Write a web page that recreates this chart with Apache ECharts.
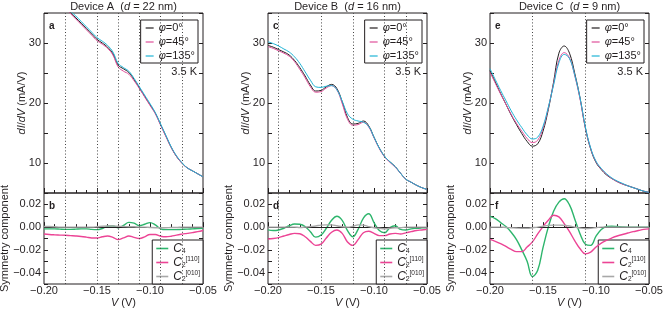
<!DOCTYPE html>
<html><head><meta charset="utf-8">
<script src="https://cdn.jsdelivr.net/npm/echarts@6/dist/echarts.min.js"></script>
<style>html,body{margin:0;padding:0;background:#fff}#c{width:669px;height:310px}</style>
</head><body><div id="c"></div>
<script>
// ---------- DATA ----------
const voltage = [-0.200,-0.195,-0.190,-0.185,-0.180,-0.175,-0.170,-0.165,-0.160,-0.155,-0.150,-0.145,-0.140,-0.135,-0.130,-0.125,-0.120,-0.115,-0.110,-0.105,-0.100,-0.095,-0.090,-0.085,-0.080,-0.075,-0.070,-0.065,-0.060,-0.055,-0.050];

const devTitles = ['Device A', 'Device B', 'Device C'];
const devThickness = ['22', '16', '9'];
const panelLetters = [['a','b'],['c','d'],['e','f']];
const temperatureLabel = '3.5 K';

// dI/dV (mA/V)
const aPhi0   = [39.5,38.6,37.7,36.8,35.9,35.0,34.2,33.3,32.4,31.5,30.6,30.0,29.3,28.2,26.3,25.7,25.1,23.9,22.5,21.1,19.7,18.3,16.4,14.5,12.6,11.1,10.0,9.2,8.7,8.2,7.7];
const aPhi45  = [39.4,38.5,37.6,36.7,35.8,34.9,34.0,33.1,32.2,31.3,30.4,29.8,29.1,28.0,26.0,25.3,24.8,23.7,22.4,21.0,19.6,18.2,16.3,14.4,12.6,11.1,10.0,9.2,8.7,8.2,7.7];
const aPhi135 = [39.8,38.9,38.0,37.1,36.2,35.3,34.5,33.6,32.7,31.8,30.9,30.3,29.6,28.5,26.6,25.9,25.3,24.1,22.7,21.3,19.9,18.4,16.5,14.6,12.7,11.2,10.1,9.2,8.7,8.2,7.7];

const bPhi0   = [29.6,29.3,28.9,28.5,28.0,27.1,25.9,24.5,23.0,22.0,22.1,22.7,23.1,22.4,20.2,17.6,16.5,16.6,17.0,16.2,14.3,12.5,11.1,10.2,9.4,8.3,7.3,6.8,6.3,5.9,5.6];
const bPhi45  = [29.4,29.1,28.7,28.3,27.8,26.9,25.6,24.2,22.7,21.8,21.9,22.5,22.9,22.2,19.9,17.3,16.3,16.4,16.8,16.0,14.2,12.4,11.0,10.1,9.3,8.3,7.3,6.8,6.3,5.9,5.6];
const bPhi135 = [30.2,29.9,29.5,29.0,28.5,27.7,26.6,25.2,23.8,22.7,22.6,22.8,22.9,22.2,20.3,18.2,17.3,17.0,16.8,16.1,14.3,12.5,11.1,10.2,9.4,8.3,7.3,6.8,6.3,5.9,5.6];

const cPhi0   = [25.4,23.5,21.6,19.8,18.0,16.4,14.9,13.6,12.8,13.2,15.3,18.9,23.5,28.3,29.5,28.3,24.9,20.8,15.8,12.3,10.1,8.9,8.0,7.4,6.9,6.5,6.2,5.9,5.6,5.3,5.1];
const cPhi45  = [25.1,23.3,21.5,19.8,18.1,16.6,15.3,14.1,13.4,13.8,15.8,19.2,23.2,27.1,28.4,27.5,24.5,20.6,15.8,12.4,10.2,9.0,8.1,7.4,6.9,6.5,6.2,5.9,5.6,5.3,5.1];
const cPhi135 = [25.7,23.9,22.1,20.4,18.7,17.2,15.9,14.7,14.0,14.3,16.1,19.3,23.0,26.7,28.1,27.4,24.6,20.8,16.0,12.5,10.3,9.1,8.2,7.5,7.0,6.6,6.2,5.9,5.6,5.3,5.1];

// Symmetry components
const aC4    = [-0.0015,-0.0015,-0.0015,-0.0018,-0.002,-0.002,-0.0018,-0.0015,-0.0015,-0.002,-0.0022,-0.0012,0.0008,0.001,-0.0005,0.0015,0.0042,0.0035,0.0012,0.0025,0.004,0.002,-0.0015,-0.0022,-0.0022,-0.0022,-0.002,-0.0018,-0.0015,-0.0012,-0.001];
const aC2110 = [-0.006,-0.0065,-0.0068,-0.007,-0.0072,-0.0075,-0.0078,-0.0082,-0.0088,-0.0095,-0.0095,-0.0085,-0.0078,-0.009,-0.011,-0.0095,-0.0078,-0.009,-0.010,-0.0085,-0.0065,-0.0065,-0.008,-0.0085,-0.008,-0.007,-0.0062,-0.0055,-0.0048,-0.004,-0.003];
const aC2010 = [0.0005,0.0005,0.0003,0,0,0,0,0,0,0,0.0003,0.0008,0.001,0.001,0.0008,0.0005,0.0003,0.0003,0,0,-0.0003,-0.0005,-0.0005,-0.0005,-0.0003,-0.0003,0,0,0,0,0];

const bC4    = [-0.0024,-0.003,-0.0025,-0.001,0.0012,0.0028,0.0025,0.0005,-0.004,-0.0088,-0.007,-0.001,0.006,0.0095,0.006,-0.003,-0.0085,-0.002,0.008,0.0118,0.004,-0.003,-0.005,-0.0005,0.0012,-0.002,-0.0025,-0.0015,-0.001,-0.0007,-0.0005];
const bC2110 = [-0.0104,-0.010,-0.0092,-0.0078,-0.0065,-0.0055,-0.0058,-0.0085,-0.0125,-0.016,-0.015,-0.0095,-0.0045,-0.0025,-0.0055,-0.013,-0.016,-0.011,-0.005,-0.0036,-0.0055,-0.0075,-0.0075,-0.006,-0.0055,-0.006,-0.005,-0.004,-0.003,-0.0025,-0.002];
const bC2010 = [0,0,0,0,0,0,-0.0003,0,0.0005,0.001,0.0018,0.002,0.002,0.0012,0.0003,0,0.0008,0.002,0.0018,0.0005,-0.0005,-0.001,-0.0015,-0.001,-0.0005,-0.0005,0,0,0,0,0];

const cC4    = [0.0095,0.0075,0.004,0.0005,-0.0045,-0.011,-0.020,-0.030,-0.0435,-0.038,-0.018,0.000,0.014,0.022,0.025,0.0195,0.007,-0.006,-0.015,-0.016,-0.008,-0.002,0.0005,0.0008,0.0005,0.0002,0,0,0,0,0];
const cC2110 = [-0.0107,-0.0125,-0.0145,-0.017,-0.0195,-0.0215,-0.0215,-0.0175,-0.013,-0.006,0.0005,0.006,0.0105,0.009,0.003,-0.004,-0.012,-0.019,-0.0235,-0.022,-0.0175,-0.014,-0.0115,-0.0095,-0.0078,-0.0065,-0.0052,-0.004,-0.003,-0.002,-0.0015];
const cC2010 = [0,0,0,-0.0003,-0.0005,-0.0008,-0.001,-0.001,-0.0005,0,0.0008,0.0015,0.0018,0.0018,0.0015,0.001,0,-0.0008,-0.0012,-0.001,-0.0005,0,0,0,0,0,0,0,0,0,0];

// dotted reference lines (V)
const dotsA = [-0.178,-0.151,-0.130,-0.107,-0.087,-0.073];
const dotsB = [-0.193,-0.154,-0.123,-0.092,-0.074];
const dotsC = [-0.160,-0.108];

const topSets = [[aPhi0,aPhi45,aPhi135],[bPhi0,bPhi45,bPhi135],[cPhi0,cPhi45,cPhi135]];
const botSets = [[aC4,aC2110,aC2010],[bC4,bC2110,bC2010],[cC4,cC2110,cC2010]];
const dotSets = [dotsA, dotsB, dotsC];
const topNames = ['phi0','phi45','phi135'];
const botNames = ['C4','C2_110','C2_010'];

// ---------- STYLE / LAYOUT ----------
const FONT = '"Liberation Sans", Arial, Helvetica, sans-serif';
const INK = '#231f20';
const topColors = ['#231f20','#e0509a','#1fb4d6'];
const botColors = ['#2db56c','#ec4495','#a8a8a8'];
const plotLeft = [44, 268, 490];
const plotW = 159;
const topY = 13, topH = 180, botY = 193, botH = 91;

function pair(ys){ return voltage.map((v,i)=>[v, ys[i]]); }
function fmtX(v){ const s = Math.abs(v).toFixed(2); return v < -1e-9 ? '\u2212' + s : s; }
function isMult(v, step){ const r = v/step; return Math.abs(r - Math.round(r)) < 1e-6; }

const grids = [], xAxes = [], yAxes = [], series = [], legends = [], titles = [], graphics = [];

for (let c = 0; c < 3; c++) {
  for (let r = 0; r < 2; r++) {
    const gi = c*2 + r;
    grids.push({left: plotLeft[c], top: r===0?topY:botY, width: plotW, height: r===0?topH:botH,
      show: true, borderColor: INK, borderWidth: 1, backgroundColor: 'transparent',
      containLabel: false, outerBoundsMode: 'none'});
    xAxes.push({type:'value', gridIndex: gi, min:-0.2, max:-0.05, interval:0.05, position:'bottom',
      axisLine:{show:false}, splitLine:{show:false},
      axisTick:{show:true, inside:true, length:5, lineStyle:{color:INK, width:1}},
      minorTick:{show:true, splitNumber:5, length:3, lineStyle:{color:INK, width:1}},
      axisLabel:{show: r===1, formatter: fmtX, fontFamily: FONT, fontSize: 11, color: INK, margin: 1},
      name: r===1 ? '{i|V} (V)' : '', nameLocation:'middle', nameGap: 13, nameMoveOverlap: false,
      nameTextStyle:{fontFamily: FONT, fontSize: 11, color: INK, rich:{i:{fontStyle:'italic', fontFamily: FONT, fontSize: 11, color: INK}}}
    });
    const yBase = r===0
      ? {min:5, max:35, interval:5, lab: v => isMult(v,10) ? String(v) : ''}
      : {min:-0.05, max:0.03, interval:0.01, lab: v => isMult(v,0.02) ? fmtX(v) : ''};
    for (let side = 0; side < 2; side++) {
      yAxes.push({type:'value', gridIndex: gi, min:yBase.min, max:yBase.max, interval:yBase.interval,
        position: side===0?'left':'right',
        axisLine:{show:false}, splitLine:{show:false},
        axisTick:{show:true, inside:true, length:4, lineStyle:{color:INK, width:1}},
        axisLabel:{show: side===0, formatter: yBase.lab, fontFamily: FONT, fontSize: 11, color: INK, margin: 3},
        name: side===0 ? (r===0 ? '{i|dI}/{i|dV} (mA/V)' : 'Symmetry component') : '',
        nameLocation:'middle', nameRotate: 90, nameGap: r===0 ? 16.5 : 34, nameMoveOverlap: false,
        nameTextStyle:{fontFamily: FONT, fontSize: 11, color: INK, rich:{i:{fontStyle:'italic', fontFamily: FONT, fontSize: 11, color: INK}}}
      });
    }
    const sets = r===0 ? topSets[c] : botSets[c];
    const names = r===0 ? topNames : botNames;
    const cols = r===0 ? topColors : botColors;
    for (let k = 0; k < 3; k++) {
      const s = {type:'line', name: names[k], xAxisIndex: gi, yAxisIndex: gi*2, data: pair(sets[k]),
        smooth: 0.4, showSymbol:false, symbol:'none', color: cols[k], clip: true,
        lineStyle:{color: cols[k], width: r===0 ? 1 : 1.4}, emphasis:{disabled:true}, z: 3+k, animation:false};
      if (k === 0) {
        const md = dotSets[c].map(v => ({xAxis: v, lineStyle:{type:[1,2.2], color: '#444', width:1}}));
        if (r === 1) md.push({yAxis: 0, lineStyle:{type:'solid', color: INK, width:1.2}});
        s.markLine = {silent:true, symbol:['none','none'], label:{show:false}, animation:false, data: md};
      }
      series.push(s);
    }
  }
  // title
  titles.push({text: devTitles[c] + '  ({i|d} = ' + devThickness[c] + ' nm)', left: plotLeft[c] + plotW/2, top: 1,
    textAlign:'center', padding: 0,
    textStyle:{fontFamily: FONT, fontSize: 11, fontWeight:'normal', color: INK,
      rich:{i:{fontStyle:'italic', fontFamily: FONT, fontSize: 11, color: INK}}}});
  // top legend
  legends.push({data: topNames.map(n => ({name:n, icon:'rect'})), orient:'vertical', right: 669 - (plotLeft[c] + plotW) + 5, top: 20,
    selectedMode:false, icon:'rect', itemWidth:8, itemHeight:1.2, itemGap:2,
    borderColor: INK, borderWidth:1, padding:[2,3,1,5], backgroundColor:'#fff',
    formatter: n => ({phi0:'{i|φ}=0°', phi45:'{i|φ}=45°', phi135:'{i|φ}=135°'})[n],
    textStyle:{fontFamily: FONT, fontSize: 11, color: INK, lineHeight: 12,
      rich:{i:{fontStyle:'italic', fontFamily: FONT, fontSize: 11, color: INK, lineHeight: 12}}}});
  // bottom legend
  legends.push({data: botNames.map(n => ({name:n, icon:'rect'})), orient:'vertical', right: 669 - (plotLeft[c] + plotW), bottom: 310 - (botY + botH),
    selectedMode:false, icon:'rect', itemWidth:12, itemHeight:1.6, itemGap:1,
    borderColor: INK, borderWidth:1, padding:[2,3,1,4], backgroundColor:'#fff',
    formatter: n => ({C4:'{c|C}{s|4}', C2_110:'{c|C}{s|2}{p|[110]}', C2_010:'{c|C}{s|2}{p|[010]}'})[n],
    textStyle:{fontFamily: FONT, fontSize: 11, color: INK, lineHeight: 13,
      rich:{
        c:{fontStyle:'italic', fontFamily: FONT, fontSize: 12, color: INK, lineHeight: 13, verticalAlign:'middle'},
        s:{fontFamily: FONT, fontSize: 6.5, color: INK, lineHeight: 13, verticalAlign:'bottom'},
        p:{fontFamily: FONT, fontSize: 6.5, color: INK, lineHeight: 13, verticalAlign:'top'}
      }}});
  // panel letters & temperature
  graphics.push({type:'text', left: plotLeft[c] + 5, top: 21, silent:true,
    style:{text: panelLetters[c][0], font: 'bold 10px ' + FONT, fill: INK}});
  graphics.push({type:'text', left: plotLeft[c] + 5, top: 201, silent:true,
    style:{text: panelLetters[c][1], font: 'bold 10px ' + FONT, fill: INK}});
  graphics.push({type:'text', right: 669 - (plotLeft[c] + plotW) + 6, top: 66, silent:true,
    style:{text: temperatureLabel, font: '11px ' + FONT, fill: INK}});
}

const chart = echarts.init(document.getElementById('c'), null, {renderer:'canvas'});
chart.setOption({
  animation:false,
  backgroundColor:'#fff',
  textStyle:{fontFamily: FONT},
  title: titles,
  grid: grids, xAxis: xAxes, yAxis: yAxes, series: series,
  legend: legends,
  graphic: graphics,
  tooltip:{show:false}
});
</script></body></html>
